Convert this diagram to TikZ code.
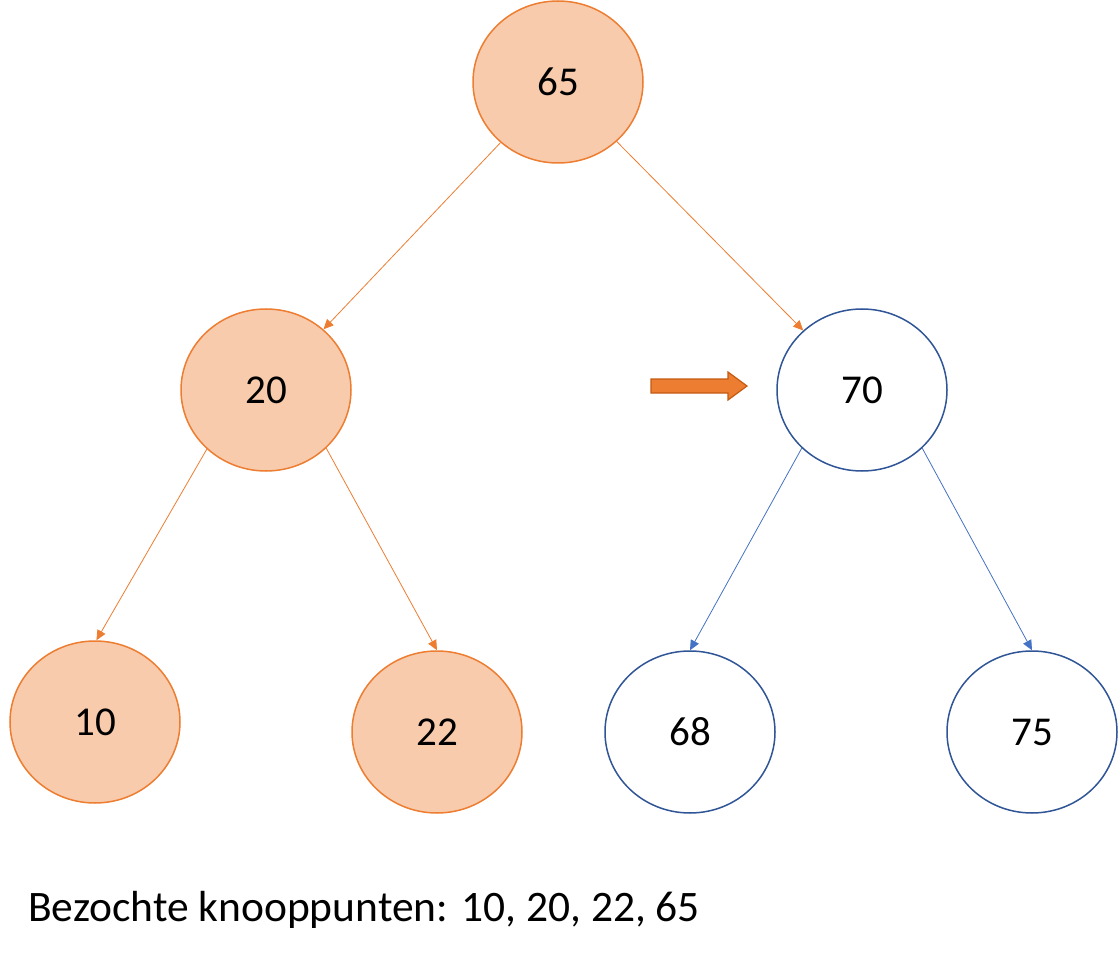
\documentclass[tikz,border=0pt]{standalone}
\usepackage{fontspec}
\setmainfont{Carlito}
\usetikzlibrary{shapes.geometric,arrows.meta}
\definecolor{ofill}{HTML}{F8CBAD}
\definecolor{oline}{HTML}{ED7D31}
\definecolor{odark}{HTML}{C55A11}
\definecolor{bline}{HTML}{2F5597}
\definecolor{barr}{HTML}{4472C4}
\begin{document}
\begin{tikzpicture}[x=1pt,y=-1pt,
  nd/.style={ellipse,minimum width=170pt,minimum height=162pt,line width=1.5pt,font=\fontsize{41}{46}\selectfont,inner sep=0pt},
  on/.style={nd,draw=oline,fill=ofill},
  bn/.style={nd,draw=bline,fill=white},
  oe/.style={draw=oline,line width=0.8pt,-{Triangle[length=10pt,width=9pt]}},
  be/.style={draw=barr,line width=0.8pt,-{Triangle[length=10pt,width=9pt]}}]
\useasboundingbox (0,0) rectangle (1120,960);
\node[on] (n65) at (558,82) {65};
\node[on] (n20) at (266,390) {20};
\node[bn] (n70) at (862,390) {70};
\node[on] (n10) at (95,722) {10};
\node[on] (n22) at (437,732) {22};
\node[bn] (n68) at (690,732) {68};
\node[bn] (n75) at (1032,732) {75};
\draw[oe] (n65) -- (n20);
\draw[oe] (n65) -- (n70);
\draw[oe] (n20.225) -- (n10.89);
\draw[oe] (n20.316) -- (n22.90);
\draw[be] (n70.224) -- (n68.90);
\draw[be] (n70.316) -- (n75.90);
\draw[fill=oline,draw=odark,line width=1.2pt] (651,379) -- (728,379) -- (728,372) -- (747,386) -- (728,400) -- (728,393) -- (651,393) -- cycle;
\node[anchor=west,font=\fontsize{43.5}{50}\selectfont,inner sep=0pt] (cap) at (28,910) {Bezochte knooppunten: 10, 20, 22, 65};
\end{tikzpicture}
\end{document}
